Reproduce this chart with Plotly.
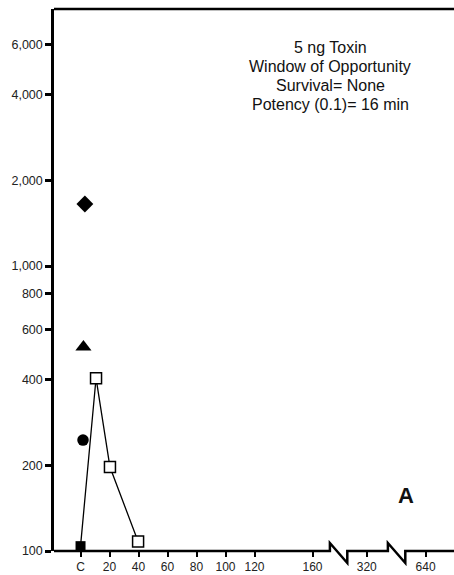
import plotly.graph_objects as go

# Data (x in plotted minutes, C = control at 0; 320/640 sit after axis breaks)
tick_vals = [0, 20, 40, 60, 80, 100, 120, 160, 197.4, 238]
tick_text = ["C", "20", "40", "60", "80", "100", "120", "160", "320", "640"]
y_tick_vals = [100, 200, 400, 600, 800, 1000, 2000, 4000, 6000]
y_tick_text = ["100", "200", "400", "600", "800", "1,000", "2,000", "4,000", "6,000"]

line_x = [0, 10.7, 20.3, 39.7]
line_y = [104, 404, 197, 108]
open_x = [10.7, 20.3, 39.7]
open_y = [404, 197, 108]
ctrl_square = (0, 104)
ctrl_circle = (1.7, 245)
ctrl_triangle = (2.0, 520)
ctrl_diamond = (3.0, 1650)

info_lines = ["5 ng Toxin", "Window of Opportunity", "Survival= None", "Potency (0.1)= 16 min"]

font = "Liberation Sans, Arial, sans-serif"
fig = go.Figure()
fig.add_trace(go.Scatter(x=line_x, y=line_y, mode="lines",
                         line=dict(color="black", width=1.3), cliponaxis=False))
fig.add_trace(go.Scatter(x=open_x, y=open_y, mode="markers", cliponaxis=False,
                         marker=dict(symbol="square", size=11, color="white",
                                     line=dict(color="black", width=1.5))))
for (px, py), sym, sz in [(ctrl_square, "square", 10), (ctrl_circle, "circle", 11.5),
                          (ctrl_triangle, "triangle-up", 14), (ctrl_diamond, "diamond", 13)]:
    fig.add_trace(go.Scatter(x=[px], y=[py], mode="markers", cliponaxis=False,
                             marker=dict(symbol=sym, size=sz, color="black",
                                         line=dict(color="black", width=0))))

xl, xr = -18.3, 257.6
a, b = 8 / 542, -12 / 542
path = (f"M {xl},0 L 172,0 L 172,{a} L 184,{b} L 184,0 "
        f"L 212,0 L 212,{a} L 224,{b} L 224,0 L {xr},0")
fig.add_shape(type="path", path=path, xref="x", yref="paper",
              line=dict(color="black", width=2.5))
fig.add_shape(type="line", x0=0, x1=1, y0=1, y1=1, xref="paper", yref="paper",
              line=dict(color="black", width=2.5))

for i, txt in enumerate(info_lines):
    ypix = 47 + 19.3 * i
    fig.add_annotation(x=(330 - 54) / 400, y=(551 - ypix) / 542, xref="paper", yref="paper",
                       text=txt, showarrow=False, xanchor="center", yanchor="middle",
                       font=dict(family=font, size=16, color="#111"))
fig.add_annotation(x=(405.5 - 54) / 400, y=(551 - 495) / 542, xref="paper", yref="paper",
                   text="<b>A</b>", showarrow=False, xanchor="center", yanchor="middle",
                   font=dict(family=font, size=22, color="#111"))

fig.update_layout(
    width=454, height=575, margin=dict(l=54, r=0, t=9, b=24),
    paper_bgcolor="white", plot_bgcolor="white", showlegend=False,
    font=dict(family=font, size=12.5, color="#222"),
)
fig.update_xaxes(range=[xl, xr], showline=False, showgrid=False, zeroline=False,
                 tickvals=tick_vals, ticktext=tick_text, ticks="outside",
                 ticklen=5, tickwidth=2, tickcolor="black",
                 tickfont=dict(size=12, family=font, color="#222"))
fig.update_yaxes(type="log", range=[2, 3.902], showline=True, linewidth=2.5,
                 linecolor="black", showgrid=False, zeroline=False,
                 tickvals=y_tick_vals, ticktext=y_tick_text, ticks="outside",
                 ticklen=6, tickwidth=2.5, tickcolor="black",
                 tickfont=dict(size=12.5, family=font, color="#222"))

fig.write_html("out.html")
